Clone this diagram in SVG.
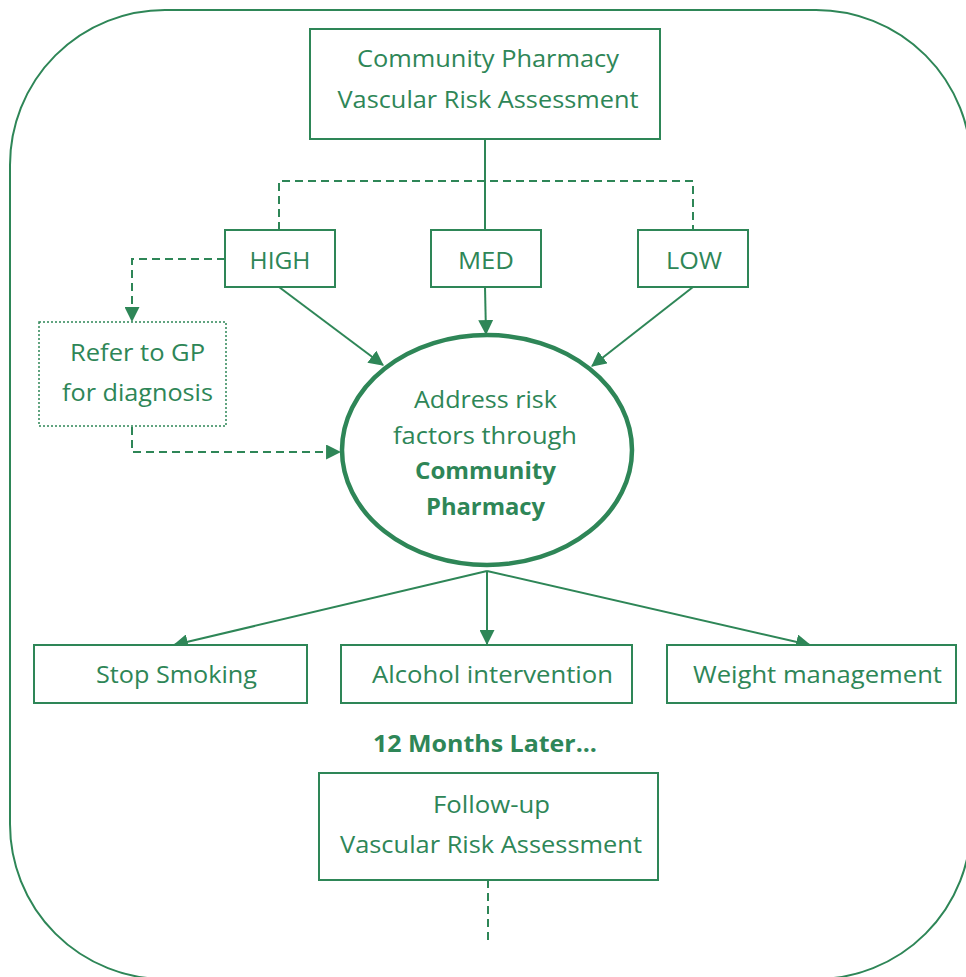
<svg xmlns="http://www.w3.org/2000/svg" width="966" height="977" viewBox="0 0 966 977">
<defs>
<marker id="ah" viewBox="0 0 14 14" refX="13" refY="7" markerWidth="15" markerHeight="15" markerUnits="userSpaceOnUse" orient="auto">
<path d="M0,0 L14,7 L0,14 Z" fill="#2e8657"/>
</marker>
<style>
.b{fill:#fff;stroke:#2e8657;stroke-width:2}
.t{font-family:"Open Sans","Noto Sans",sans-serif;font-size:24px;fill:#2e8657;text-anchor:middle}
.bd{font-weight:bold}
.c{fill:none;stroke:#2e8657;stroke-width:2}
.d{stroke-dasharray:8,5}
</style>
</defs>
<rect x="0" y="0" width="966" height="977" fill="#fff"/>
<rect id="frame" x="10" y="10" width="961" height="969" rx="155" ry="155" fill="none" stroke="#2e8657" stroke-width="2"/>
<g id="connectors">
<path class="c" d="M485,139 L485,230"/>
<path class="c d" d="M279,230 L279,181 L693,181 L693,230"/>
<path class="c d" d="M225,259 L132,259 L132,321" marker-end="url(#ah)"/>
<path class="c d" d="M132,427 L132,452 L340,452" marker-end="url(#ah)"/>
<path class="c" d="M279,287 L383,365" marker-end="url(#ah)"/>
<path class="c" d="M485,287 L486,334" marker-end="url(#ah)"/>
<path class="c" d="M693,287 L592,366" marker-end="url(#ah)"/>
<path class="c" d="M487,571 L174,645" marker-end="url(#ah)"/>
<path class="c" d="M487,571 L487,644" marker-end="url(#ah)"/>
<path class="c" d="M487,571 L810,645" marker-end="url(#ah)"/>
<path class="c d" d="M488,880 L488,942"/>
</g>
<g id="top">
<rect class="b" x="310" y="29" width="350" height="110"/>
<text class="t" x="488" y="67" textLength="262" lengthAdjust="spacingAndGlyphs">Community Pharmacy</text>
<text class="t" x="488" y="108" textLength="301" lengthAdjust="spacingAndGlyphs">Vascular Risk Assessment</text>
</g>
<g id="high">
<rect class="b" x="225" y="230" width="110" height="57"/>
<text class="t" x="280" y="269" textLength="61" lengthAdjust="spacingAndGlyphs">HIGH</text>
</g>
<g id="med">
<rect class="b" x="431" y="230" width="110" height="57"/>
<text class="t" x="486" y="269" textLength="56" lengthAdjust="spacingAndGlyphs">MED</text>
</g>
<g id="low">
<rect class="b" x="638" y="230" width="110" height="57"/>
<text class="t" x="694" y="269" textLength="56" lengthAdjust="spacingAndGlyphs">LOW</text>
</g>
<g id="refer">
<rect x="39" y="322" width="187" height="104" fill="#fff" stroke="#2e8657" stroke-width="1.5" stroke-dasharray="2,2"/>
<text class="t" x="137.5" y="361" textLength="135" lengthAdjust="spacingAndGlyphs">Refer to GP</text>
<text class="t" x="137.5" y="401" textLength="151" lengthAdjust="spacingAndGlyphs">for diagnosis</text>
</g>
<g id="address">
<ellipse cx="487" cy="450" rx="145" ry="115" fill="#fff" stroke="#2e8657" stroke-width="4.5"/>
<text class="t" x="485.5" y="408" textLength="143" lengthAdjust="spacingAndGlyphs">Address risk</text>
<text class="t" x="485" y="444" textLength="184" lengthAdjust="spacingAndGlyphs">factors through</text>
<text class="t bd" x="485.5" y="479" textLength="141" lengthAdjust="spacingAndGlyphs">Community</text>
<text class="t bd" x="485.5" y="515" textLength="119" lengthAdjust="spacingAndGlyphs">Pharmacy</text>
</g>
<g id="smoking">
<rect class="b" x="34" y="645" width="273" height="58"/>
<text class="t" x="176.5" y="683" textLength="161" lengthAdjust="spacingAndGlyphs">Stop Smoking</text>
</g>
<g id="alcohol">
<rect class="b" x="341" y="645" width="291" height="58"/>
<text class="t" x="492.5" y="683" textLength="241" lengthAdjust="spacingAndGlyphs">Alcohol intervention</text>
</g>
<g id="weight">
<rect class="b" x="667" y="645" width="289" height="58"/>
<text class="t" x="817.5" y="683" textLength="249" lengthAdjust="spacingAndGlyphs">Weight management</text>
</g>
<g id="later">
<text class="t bd" x="485" y="752" textLength="224" lengthAdjust="spacingAndGlyphs">12 Months Later...</text>
</g>
<g id="followup">
<rect class="b" x="319" y="773" width="339" height="107"/>
<text class="t" x="491.5" y="813" textLength="117" lengthAdjust="spacingAndGlyphs">Follow-up</text>
<text class="t" x="491" y="853" textLength="302" lengthAdjust="spacingAndGlyphs">Vascular Risk Assessment</text>
</g>
</svg>
